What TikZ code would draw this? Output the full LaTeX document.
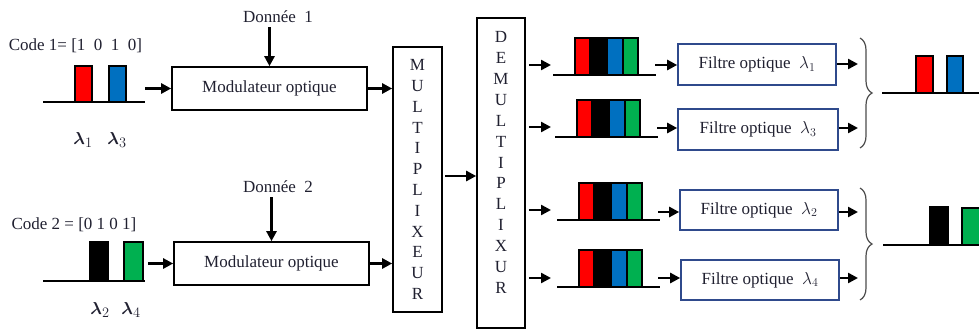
\documentclass[tikz,border=0pt]{standalone}
\usepackage{bm}
\usepackage{fontspec}
\setmainfont{Liberation Serif}
\usetikzlibrary{arrows.meta,decorations.pathreplacing}
\definecolor{cred}{HTML}{FF0000}
\definecolor{cblue}{HTML}{0070C0}
\definecolor{cgreen}{HTML}{00B050}
\definecolor{fblue}{HTML}{2F4A8C}
\definecolor{txt}{HTML}{202030}
\begin{document}
\begin{tikzpicture}[x=1pt,y=-1pt,
  arr/.style={line width=2.4pt,-{Triangle[length=10pt,width=10pt]}},
  box/.style={draw,line width=1.6pt,rectangle,inner sep=0pt,font=\fontsize{17}{20}\selectfont,text=txt},
  fbox/.style={box,draw=fblue,minimum width=158,minimum height=41},
  mbox/.style={box,minimum width=195,minimum height=43},
  lbl/.style={inner sep=0pt,font=\fontsize{17}{20}\selectfont,text=txt},
  lam/.style={inner sep=0pt,font=\fontsize{19}{20}\selectfont,text=txt},
  base/.style={line width=1.8pt},
  bar/.style={draw=black,line width=1.4pt},
  brc/.style={decorate,decoration={brace,amplitude=12pt},line width=1.2pt,draw=black!70},
  specpic/.pic={
    \draw[base] (-22,0) -- (81,0);
    \filldraw[bar,fill=cred] (0,0) rectangle (15,-37);
    \filldraw[bar,fill=black] (15,0) rectangle (32,-37);
    \filldraw[bar,fill=cblue] (32,0) rectangle (48,-37);
    \filldraw[bar,fill=cgreen] (48,0) rectangle (63,-37);
  }
]
\useasboundingbox (0,0) rectangle (979,329);
\begin{scope}
\clip (0,0) rectangle (979,329);

% ---- left inputs ----
\node[lbl] (code1) at (75.5,46) {Code 1= [1\ \ 0\ \ 1\ \ 0]};
\draw[base] (43,102) -- (145,102);
\filldraw[bar,fill=cred] (75,66) rectangle (92,102);
\filldraw[bar,fill=cblue] (109,66) rectangle (126,102);
\node[lam] (l1) at (83,140) {$\bm{\lambda}_1$};
\node[lam] (l3) at (117,140) {$\bm{\lambda}_3$};
\coordinate (c1out) at (145,88.5);

\node[lbl] (code2) at (74,225) {Code 2 = [0 1 0 1]};
\draw[base] (43,281) -- (145,281);
\filldraw[bar,fill=black] (90,242) rectangle (108,281);
\filldraw[bar,fill=cgreen] (124,242) rectangle (143,281);
\node[lam] (l2) at (100,310) {$\bm{\lambda}_2$};
\node[lam] (l4) at (131,310) {$\bm{\lambda}_4$};
\coordinate (c2out) at (148,263.5);

% ---- modulators ----
\node[mbox] (mod1) at (269.5,88.5) {Modulateur optique};
\node[mbox] (mod2) at (271.5,263.5) {Modulateur optique};
\node[lbl] (d1) at (278,17) {Donnée\ \ 1};
\node[lbl] (d2) at (278,187) {Donnée\ \ 2};
\draw[arr] (d1.south -| mod1.north) ++(0,4) -- (mod1.north);
\draw[arr] (d2.south -| mod2.north) ++(0,4) -- (mod2.north);
\draw[arr] (c1out) -- (c1out -| mod1.west);
\draw[arr] (c2out) -- (c2out -| mod2.west);

% ---- mux / demux ----
\node[box,minimum width=49,minimum height=265,align=center,font=\fontsize{17}{20.8}\selectfont] (mux) at (417.5,179.5)
  {M\\U\\L\\T\\I\\P\\L\\I\\X\\E\\U\\R};
\node[box,minimum width=48,minimum height=310] (demux) at (501,173) {};
\node[lbl,align=center,font=\fontsize{17}{20.9}\selectfont] (demuxtxt) at (501,162.5)
  {D\\E\\M\\U\\L\\T\\I\\P\\L\\I\\X\\U\\R};
\draw[arr] (mod1.east) -- (mod1.east -| mux.west);
\draw[arr] (mod2.east) -- (mod2.east -| mux.west);
\coordinate (mo) at (445,176);
\draw[arr] (mo) -- (mo -| demux.west);

% ---- spectra ----
\pic at (575,75) {specpic};
\pic at (577,137) {specpic};
\pic at (579,220) {specpic};
\pic at (579,287) {specpic};
\coordinate (s1) at (551,65);
\coordinate (s2) at (551,127);
\coordinate (s3) at (551,210);
\coordinate (s4) at (551,278);
\foreach \s in {s1,s2,s3,s4} \draw[arr,shorten <=3pt] (demux.east |- \s) -- (\s);

% ---- filters ----
\node[fbox] (f1) at (757,64.5) {Filtre optique\ \ $\lambda_1$};
\node[fbox,minimum width=160] (f2) at (758,129.5) {Filtre optique\ \ $\lambda_3$};
\node[fbox,minimum height=40] (f3) at (759,210) {Filtre optique\ \ $\lambda_2$};
\node[fbox,minimum height=40] (f4) at (760,280) {Filtre optique\ \ $\lambda_4$};
\coordinate (t1) at (655,65);
\coordinate (t2) at (657,128);
\coordinate (t3) at (658,212);
\coordinate (t4) at (658,278);
\draw[arr] (t1) -- (t1 -| f1.west);
\draw[arr] (t2) -- (t2 -| f2.west);
\draw[arr] (t3) -- (t3 -| f3.west);
\draw[arr] (t4) -- (t4 -| f4.west);
\coordinate (o1) at (858,64);
\coordinate (o2) at (858,128);
\coordinate (o3) at (858,212);
\coordinate (o4) at (858,278);
\draw[arr] (f1.east |- o1) -- (o1);
\draw[arr] (f2.east |- o2) -- (o2);
\draw[arr] (f3.east |- o3) -- (o3);
\draw[arr] (f4.east |- o4) -- (o4);

% ---- braces and outputs ----
\coordinate (b1a) at (860,38);
\coordinate (b1b) at (860,148);
\coordinate (b2a) at (860,188);
\coordinate (b2b) at (860,300);
\draw[brc] (b1a) -- (b1b);
\draw[brc] (b2a) -- (b2b);
\draw[base] (882,93) -- (979,93);
\filldraw[bar,fill=cred] (916,56) rectangle (933,93);
\filldraw[bar,fill=cblue] (947,56) rectangle (963,93);
\draw[base] (883,245) -- (979,245);
\filldraw[bar,fill=black] (930,207) rectangle (948,245);
\filldraw[bar,fill=cgreen] (962,208) rectangle (985,245);
\end{scope}
\end{tikzpicture}
\end{document}
